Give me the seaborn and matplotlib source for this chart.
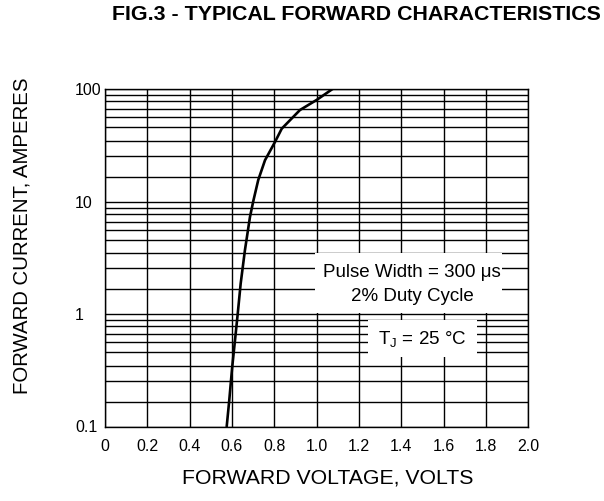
import numpy as np
import pandas as pd
import matplotlib
matplotlib.use("Agg")
import matplotlib.pyplot as plt
from matplotlib.patches import Rectangle
import seaborn as sns

# ---- data ----
voltage = [0.575, 0.587, 0.601, 0.614, 0.627, 0.641, 0.661, 0.685, 0.701,
           0.724, 0.756, 0.803, 0.835, 0.921, 1.000, 1.075]
current = [0.10, 0.205, 0.39, 0.62, 1.0, 2.26, 4.2, 7.6, 10.3,
           18.6, 27.8, 39.0, 49.0, 69.0, 82.0, 100.0]
x_ticks = [0, 0.2, 0.4, 0.6, 0.8, 1.0, 1.2, 1.4, 1.6, 1.8, 2.0]
x_tick_labels = ["0", "0.2", "0.4", "0.6", "0.8", "1.0", "1.2", "1.4", "1.6", "1.8", "2.0"]
y_ticks = [0.1, 1, 10, 100]
y_tick_labels = ["0.1", "1", "10", "100"]
# the printed grid's spacing inside each decade (mantissa -> fraction of decade)
grid_mant = [1, 2, 3, 4, 5, 6, 7, 8, 9, 10]
grid_frac = [0.0, 0.222, 0.408, 0.542, 0.659, 0.749, 0.820, 0.892, 0.946, 1.0]

df = pd.DataFrame({"V": voltage, "I": current})

sns.set_style("white")
plt.rcParams["font.family"] = ["Liberation Sans", "DejaVu Sans"]
plt.rcParams["text.color"] = "black"
plt.rcParams["axes.labelcolor"] = "black"
plt.rcParams["xtick.color"] = "black"
plt.rcParams["ytick.color"] = "black"


def fwd(y):
    y = np.clip(np.asarray(y, dtype=float), 1e-6, None)
    d = np.floor(np.log10(y) + 1e-9)
    m = y / 10.0 ** d
    return d + np.interp(m, grid_mant, grid_frac)


def inv(t):
    t = np.asarray(t, dtype=float)
    d = np.floor(t + 1e-9)
    f = t - d
    return np.interp(f, grid_frac, grid_mant) * 10.0 ** d


fig = plt.figure(figsize=(6.04, 5.01), dpi=100)
W, H = 604, 501
ax = fig.add_axes([105 / W, 74.5 / H, 423.3 / W, 337.5 / H])

sns.lineplot(data=df, x="V", y="I", ax=ax, color="black", linewidth=1.9,
             sort=False, estimator=None, zorder=4)

ax.set_yscale("function", functions=(fwd, inv))
ax.set_xlim(0, 2.0)
ax.set_ylim(0.1, 100)

minor = [k * 10.0 ** d for d in (-1, 0, 1) for k in range(2, 10)]
ax.set_yticks(y_ticks)
ax.set_yticklabels(y_tick_labels)
ax.set_yticks(minor, minor=True)
ax.set_xticks(x_ticks)
ax.set_xticklabels(x_tick_labels)

ax.tick_params(axis="both", which="both", length=0, labelsize=11.5,
               colors="black", labelcolor="black")
ax.tick_params(axis="y", pad=21.6)
ax.tick_params(axis="x", pad=9)
for lab in ax.get_yticklabels():
    lab.set_horizontalalignment("left")

ax.set_axisbelow(True)
ax.grid(True, which="both", color="black", linewidth=1.0)
for sp in ax.spines.values():
    sp.set_visible(True)
    sp.set_color("black")
    sp.set_linewidth(1.0)

ax.set_xlabel("")
ax.set_ylabel("")

# white boxes that hide the grid behind the notes
ax.add_patch(Rectangle((0.496, 0.336), 0.442, 0.178, transform=ax.transAxes,
                       facecolor="white", edgecolor="none", zorder=2))
ax.add_patch(Rectangle((0.621, 0.206), 0.258, 0.110, transform=ax.transAxes,
                       facecolor="white", edgecolor="none", zorder=2))

ax.text(0.725, 0.455, "Pulse Width = 300 \u03bcs", transform=ax.transAxes,
        ha="center", va="center", fontsize=13.5, zorder=5, color="black")
ax.text(0.725, 0.384, "2% Duty Cycle", transform=ax.transAxes,
        ha="center", va="center", fontsize=13.5, zorder=5, color="black")
ax.text(0.750, 0.256, "T$_\\mathregular{J}$ = 25 \u00b0C", transform=ax.transAxes,
        ha="center", va="center", fontsize=13.5, zorder=5, color="black")

fig.text(356 / W, 1 - 14 / H, "FIG.3 - TYPICAL FORWARD CHARACTERISTICS",
         ha="center", va="center", fontsize=15.4, fontweight="bold", color="black")
fig.text(328 / W, 1 - 478 / H, "FORWARD VOLTAGE, VOLTS",
         ha="center", va="center", fontsize=15.3, color="black")
fig.text(22 / W, 1 - 236 / H, "FORWARD CURRENT, AMPERES",
         ha="center", va="center", fontsize=14.7, rotation=90, color="black")

fig.savefig("out.png", dpi=100, facecolor="white")
